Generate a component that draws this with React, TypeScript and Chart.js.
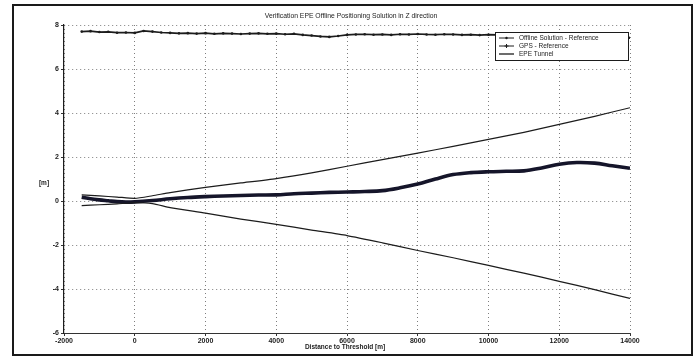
import React, { useEffect, useRef } from "react";
import { Chart, registerables } from "chart.js";

Chart.register(...registerables);

const FONT = '"Liberation Sans", Arial, sans-serif';

const titleText = "Verification EPE Offline Positioning Solution in Z direction";
const xTitle = "Distance to Threshold [m]";
const yTitle = "[m]";

const seriesNames = ["Offline Solution - Reference", "GPS - Reference", "EPE Tunnel"];

// GPS height error relative to the reference trajectory
const gpsDistance = [
  -1500, -1250, -1000, -750, -500, -250, 0, 250, 500, 750, 1000, 1250, 1500, 1750, 2000, 2250,
  2500, 2750, 3000, 3250, 3500, 3750, 4000, 4250, 4500, 4750, 5000, 5250, 5500, 5750, 6000, 6250,
  6500, 6750, 7000, 7250, 7500, 7750, 8000, 8250, 8500, 8750, 9000, 9250, 9500, 9750, 10000, 10250,
  10500, 10750, 11000, 11250, 11500, 11750, 12000, 12250, 12500, 12750, 13000, 13250, 13500, 13750, 14000,
];
const gpsError = [
  7.7, 7.72, 7.68, 7.69, 7.65, 7.66, 7.64, 7.73, 7.7, 7.66, 7.64, 7.62, 7.63, 7.61, 7.63, 7.6,
  7.62, 7.61, 7.59, 7.61, 7.62, 7.6, 7.61, 7.58, 7.6, 7.55, 7.52, 7.48, 7.46, 7.5, 7.55, 7.57,
  7.58, 7.56, 7.57, 7.55, 7.58, 7.57, 7.59, 7.57, 7.56, 7.58, 7.57, 7.55, 7.56, 7.54, 7.56, 7.55,
  7.57, 7.54, 7.55, 7.53, 7.55, 7.52, 7.54, 7.51, 7.5, 7.49, 7.48, 7.47, 7.46, 7.44, 7.42,
];

// Offline positioning solution relative to the reference trajectory
const offlineDistance = [
  -1500, -1250, -1000, -750, -500, -250, 0, 500, 1000, 1500, 2000, 2500, 3000, 3500, 4000, 4500,
  5000, 5500, 6000, 6500, 7000, 7500, 8000, 8500, 9000, 9500, 10000, 10500, 11000, 11500, 12000,
  12500, 13000, 13500, 14000,
];
const offlineError = [
  0.17, 0.1, 0.05, 0.01, -0.03, -0.05, -0.04, 0.02, 0.1, 0.16, 0.2, 0.23, 0.25, 0.27, 0.28, 0.33,
  0.36, 0.39, 0.41, 0.43, 0.47, 0.6, 0.77, 1.0, 1.2, 1.29, 1.33, 1.35, 1.37, 1.5, 1.67,
  1.75, 1.72, 1.6, 1.49,
];

// EPE tunnel bounds
const tunnelDistance = [
  -1500, -1000, -500, 0, 500, 1000, 2000, 3000, 4000, 5000, 6000, 7000, 8000, 9000, 10000,
  11000, 12000, 13000, 14000,
];
const tunnelUpper = [
  0.28, 0.23, 0.18, 0.12, 0.24, 0.38, 0.62, 0.82, 1.02, 1.28, 1.58, 1.88, 2.18, 2.48, 2.8,
  3.12, 3.48, 3.85, 4.24,
];
const tunnelLower = [
  -0.21, -0.17, -0.13, -0.08, -0.12, -0.3, -0.55, -0.82, -1.06, -1.32, -1.57, -1.9, -2.25, -2.58,
  -2.93, -3.28, -3.65, -4.03, -4.43,
];

const pairs = (xs: number[], ys: number[]) => xs.map((x, i) => ({ x, y: ys[i] }));

const INK = "#1c1c1c";

const decorations = {
  id: "decorations",
  afterDatasetsDraw(chart: any) {
    const { ctx, chartArea } = chart;
    ctx.save();
    ctx.fillStyle = INK;
    ctx.textBaseline = "middle";

    // title
    ctx.font = `6.8px ${FONT}`;
    ctx.textAlign = "center";
    ctx.fillText(titleText, 351, 16);

    // axis titles
    ctx.font = `bold 6.5px ${FONT}`;
    ctx.fillText(xTitle, (chartArea.left + chartArea.right) / 2 - 2, 347);
    ctx.fillText(yTitle, 44, 183);

    // legend box
    const bx = 495;
    const by = 32;
    const bw = 133;
    const bh = 28;
    ctx.fillStyle = "#ffffff";
    ctx.fillRect(bx, by, bw, bh);
    ctx.strokeStyle = INK;
    ctx.lineWidth = 1;
    ctx.strokeRect(bx + 0.5, by + 0.5, bw, bh);

    const rows = [by + 6, by + 14, by + 22];
    ctx.textAlign = "left";
    ctx.font = `6.5px ${FONT}`;
    rows.forEach((ry, i) => {
      ctx.strokeStyle = INK;
      ctx.lineWidth = i === 2 ? 1.3 : 1;
      ctx.beginPath();
      ctx.moveTo(bx + 4, ry);
      ctx.lineTo(bx + 19, ry);
      ctx.stroke();
      if (i === 0) {
        ctx.fillStyle = INK;
        ctx.beginPath();
        ctx.arc(bx + 11.5, ry, 1.2, 0, Math.PI * 2);
        ctx.fill();
      } else if (i === 1) {
        ctx.beginPath();
        ctx.moveTo(bx + 11.5, ry - 2);
        ctx.lineTo(bx + 11.5, ry + 2);
        ctx.moveTo(bx + 9.5, ry);
        ctx.lineTo(bx + 13.5, ry);
        ctx.stroke();
      }
      ctx.fillStyle = INK;
      ctx.fillText(seriesNames[i], bx + 24, ry + 0.5);
    });
    ctx.restore();
  },
};

export default function App() {
  const canvasRef = useRef<HTMLCanvasElement | null>(null);

  useEffect(() => {
    if (!canvasRef.current) return;
    const gridCommon = {
      color: "#6f6f6f",
      lineWidth: 0.9,
      tickLength: 3,
      tickColor: INK,
    };
    const chart = new Chart(canvasRef.current, {
      type: "line",
      data: {
        datasets: [
          {
            label: seriesNames[1],
            data: pairs(gpsDistance, gpsError),
            borderColor: INK,
            backgroundColor: INK,
            borderWidth: 1.7,
            pointRadius: 1.3,
            pointBorderWidth: 0,
            tension: 0,
          },
          {
            label: seriesNames[2],
            data: pairs(tunnelDistance, tunnelUpper),
            borderColor: INK,
            borderWidth: 1.2,
            pointRadius: 0,
            tension: 0.2,
          },
          {
            label: seriesNames[2] + " (lower)",
            data: pairs(tunnelDistance, tunnelLower),
            borderColor: INK,
            borderWidth: 1.2,
            pointRadius: 0,
            tension: 0.2,
          },
          {
            label: seriesNames[0],
            data: pairs(offlineDistance, offlineError),
            borderColor: "#15152a",
            backgroundColor: "#15152a",
            borderWidth: 3.6,
            pointRadius: 0,
            tension: 0.35,
          },
        ],
      },
      options: {
        animation: false,
        responsive: false,
        maintainAspectRatio: false,
        layout: { padding: { top: 25, right: 70, bottom: 0, left: 0 } },
        plugins: {
          legend: { display: false },
          title: { display: false },
          tooltip: { enabled: false },
        },
        scales: {
          x: {
            type: "linear",
            min: -2000,
            max: 14000,
            afterFit: (s: any) => {
              s.height = 26;
            },
            ticks: {
              stepSize: 2000,
              color: INK,
              padding: 1,
              maxRotation: 0,
              autoSkip: false,
              font: { family: FONT, size: 7, weight: "bold" },
              callback: (v: any) => String(v),
            },
            grid: { ...gridCommon },
            border: { display: true, color: "#333", width: 1, dash: [1, 3] },
          },
          y: {
            type: "linear",
            min: -6,
            max: 8,
            afterFit: (s: any) => {
              s.width = 64;
            },
            ticks: {
              stepSize: 2,
              color: INK,
              padding: 2,
              font: { family: FONT, size: 7, weight: "bold" },
              callback: (v: any) => String(v),
            },
            grid: { ...gridCommon },
            border: { display: true, color: INK, width: 1.2, dash: [1, 3] },
          },
        },
      },
      plugins: [decorations],
    } as any);
    return () => chart.destroy();
  }, []);

  return (
    <div
      style={{
        position: "fixed",
        left: 0,
        top: 0,
        width: 700,
        height: 359,
        background: "#ffffff",
        overflow: "hidden",
      }}
    >
      <div
        style={{
          position: "absolute",
          left: 12,
          top: 4,
          width: 681,
          height: 352,
          border: "2px solid #1a1a1a",
          boxSizing: "border-box",
        }}
      />
      <canvas
        ref={canvasRef}
        width={700}
        height={359}
        style={{ position: "absolute", left: 0, top: 0, width: 700, height: 359 }}
      />
    </div>
  );
}
